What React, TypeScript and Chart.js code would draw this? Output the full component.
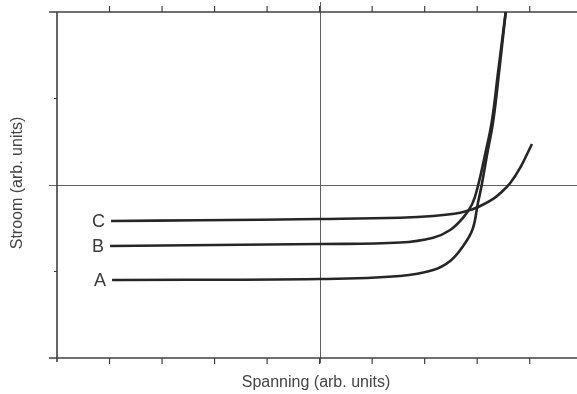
import React, { useEffect, useRef } from "react";
import { Chart, registerables } from "chart.js";

Chart.register(...registerables);

// Curve A
const curveAX = [1.048, 5.01, 6.533, 7.162, 7.486, 7.733, 7.914, 8.01, 8.086, 8.19, 8.305, 8.419, 8.543];
const curveAY = [-1.098, -1.087, -1.052, -0.983, -0.879, -0.705, -0.509, -0.22, 0, 0.358, 0.74, 1.318, 2.0];
// Curve B
const curveBX = [1.01, 5.01, 6.533, 7.162, 7.486, 7.733, 7.905, 8.019, 8.152, 8.28, 8.4, 8.543];
const curveBY = [-0.705, -0.682, -0.665, -0.609, -0.52, -0.378, -0.22, 0, 0.358, 0.74, 1.318, 2.0];
// Curve C
const curveCX = [1.029, 2.724, 5.01, 6.533, 7.162, 7.676, 7.924, 8.057, 8.305, 8.438, 8.629, 8.819, 9.042];
const curveCY = [-0.416, -0.408, -0.393, -0.378, -0.358, -0.32, -0.277, -0.243, -0.16, -0.095, 0.023, 0.2, 0.474];

const curveLabels = ["A", "B", "C"];
const xTickValues = [1, 2, 3, 4, 5, 6, 7, 8, 9];
const yTickValues = [-1, 1];
const xTitle = "Spanning (arb. units)";
const yTitle = "Stroom (arb. units)";

const toPoints = (xs: number[], ys: number[]) => xs.map((x, i) => ({ x, y: ys[i] }));

export default function App() {
  const ref = useRef<HTMLCanvasElement | null>(null);

  useEffect(() => {
    if (!ref.current) return;
    const series = [
      toPoints(curveAX, curveAY),
      toPoints(curveBX, curveBY),
      toPoints(curveCX, curveCY),
    ];

    const framePlugin = {
      id: "frame",
      beforeDatasetsDraw(chart: any) {
        const ctx = chart.ctx;
        const xs = chart.scales.x;
        const ys = chart.scales.y;
        const L = chart.chartArea.left;
        const R = chart.width;
        const T = chart.chartArea.top;
        const B = chart.chartArea.bottom;
        ctx.save();
        // mid lines
        ctx.strokeStyle = "#5e5e5e";
        ctx.lineWidth = 1;
        const mx = Math.round(xs.getPixelForValue(5)) + 0.5;
        const my = Math.round(ys.getPixelForValue(0)) + 0.5;
        ctx.beginPath();
        ctx.moveTo(mx, T - 10);
        ctx.lineTo(mx, B + 5);
        ctx.moveTo(L - 8, my);
        ctx.lineTo(R, my);
        ctx.stroke();
        // frame lines
        ctx.strokeStyle = "#404040";
        ctx.lineWidth = 1.6;
        ctx.beginPath();
        ctx.moveTo(L - 8, T);
        ctx.lineTo(R, T);
        ctx.moveTo(L - 8, B);
        ctx.lineTo(R, B);
        ctx.moveTo(L, T);
        ctx.lineTo(L, B + 4);
        ctx.stroke();
        // ticks
        ctx.lineWidth = 1.2;
        ctx.beginPath();
        xTickValues.forEach((v) => {
          const px = xs.getPixelForValue(v);
          ctx.moveTo(px, T);
          ctx.lineTo(px, T - 6);
          ctx.moveTo(px, B);
          ctx.lineTo(px, B + 6);
        });
        yTickValues.forEach((v) => {
          const py = ys.getPixelForValue(v);
          ctx.moveTo(L, py);
          ctx.lineTo(L - 3, py);
        });
        ctx.stroke();
        ctx.restore();
      },
      afterDraw(chart: any) {
        const ctx = chart.ctx;
        const xs = chart.scales.x;
        const ys = chart.scales.y;
        ctx.save();
        ctx.fillStyle = "#3a3a3a";
        ctx.font = "18px 'Liberation Sans', Arial, sans-serif";
        ctx.textAlign = "right";
        ctx.textBaseline = "middle";
        series.forEach((pts, i) => {
          const p = pts[0];
          ctx.fillText(curveLabels[i], xs.getPixelForValue(p.x) - 6, ys.getPixelForValue(p.y) + 1);
        });
        ctx.fillStyle = "#444";
        ctx.font = "16px 'Liberation Sans', Arial, sans-serif";
        ctx.textAlign = "center";
        ctx.textBaseline = "middle";
        ctx.fillText(xTitle, 316, 383);
        ctx.translate(18, 183);
        ctx.rotate(-Math.PI / 2);
        ctx.fillText(yTitle, 0, 0);
        ctx.restore();
      },
    };

    const chart = new Chart(ref.current, {
      type: "scatter",
      data: {
        datasets: series.map((pts, i) => ({
          label: curveLabels[i],
          data: pts,
          showLine: true,
          borderColor: "#262626",
          borderWidth: 2.6,
          pointRadius: 0,
          tension: 0.4,
          fill: false,
        })),
      },
      options: {
        animation: false,
        responsive: false,
        maintainAspectRatio: false,
        layout: { padding: { left: 57, right: 0, top: 12, bottom: 36 } },
        plugins: { legend: { display: false }, tooltip: { enabled: false } },
        scales: {
          x: { type: "linear", min: 0, max: 9.9, display: false },
          y: { type: "linear", min: -2, max: 2, display: false },
        },
      },
      plugins: [framePlugin],
    });
    return () => chart.destroy();
  }, []);

  return (
    <div style={{ position: "absolute", left: 0, top: 0, width: 577, height: 394, background: "#fff" }}>
      <canvas ref={ref} width={577} height={394} />
    </div>
  );
}
